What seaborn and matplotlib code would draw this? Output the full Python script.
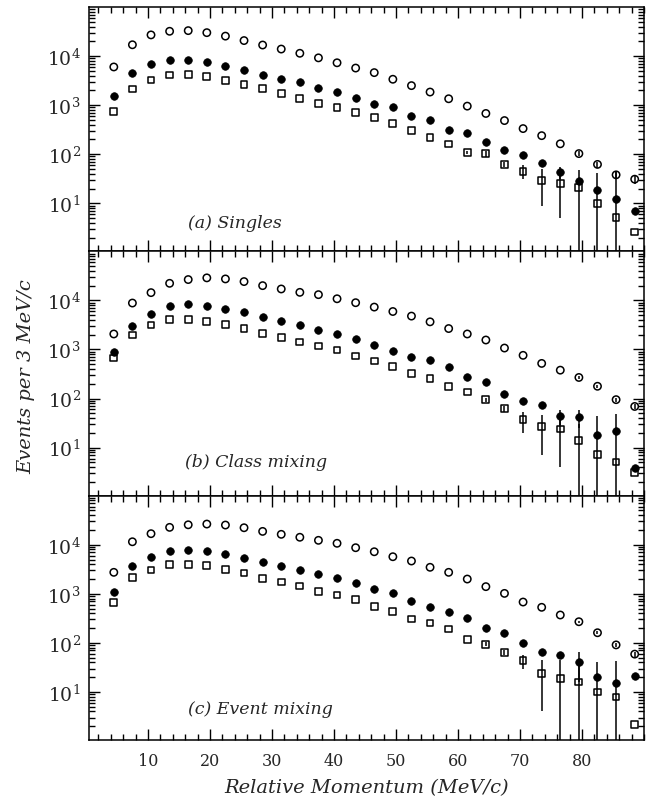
import numpy as np
import pandas as pd
import matplotlib
matplotlib.use("Agg")
import matplotlib.pyplot as plt
from matplotlib.ticker import MultipleLocator, LogLocator, NullFormatter
import seaborn as sns

# ---------------- data ----------------
momentum = [4.5, 7.5, 10.5, 13.5, 16.5, 19.5, 22.5, 25.5, 28.5, 31.5, 34.5, 37.5,
            40.5, 43.5, 46.5, 49.5, 52.5, 55.5, 58.5, 61.5, 64.5, 67.5, 70.5,
            73.5, 76.5, 79.5, 82.5, 85.5, 88.5]

# (a) Singles
a_open = [6000, 17000, 27000, 32000, 33000, 30000, 25500, 20700, 16800, 13900, 11400, 9200,
          7300, 5700, 4600, 3370, 2500, 1850, 1350, 955, 677, 485, 333,
          239, 163, 103, 62, 38, 31]
a_filled = [1510, 4480, 6750, 8160, 8280, 7640, 6330, 5220, 4200, 3480, 2920, 2280,
            1880, 1420, 1080, 910, 614, 492, 313, 266, 174, 121, 96,
            66, 44, 29, 19, 12, 7]
a_square = [743, 2130, 3260, 4130, 4260, 3830, 3170, 2620, 2200, 1760, 1370, 1100,
            910, 718, 558, 421, 307, 220, 161, 107, 102, 62, 45,
            29, 25, 21, 10, 5.2, 2.6]
a_open_err = [0] * 25 + [12, 9, 7, 6]
a_filled_err = [0] * 24 + [12, 0, 0, 0, 0]
a_square_err = [0] * 19 + [8, 16, 8, 14, 20, 20, 27, 32, 41, 0]

# (b) Class mixing
b_open = [2070, 8840, 14400, 22300, 26600, 28800, 27400, 24200, 20000, 17100, 14600, 13100,
          10800, 8980, 7310, 5940, 4790, 3660, 2670, 2070, 1560, 1070, 760,
          520, 379, 269, 178, 95, 69]
b_filled = [888, 3030, 5330, 7780, 8550, 7780, 6660, 5680, 4570, 3890, 3130, 2510,
            2050, 1660, 1240, 944, 701, 600, 437, 277, 215, 124, 91,
            75, 44, 42, 18, 22, 3.8]
b_square = [668, 1980, 3160, 4010, 4010, 3710, 3220, 2630, 2140, 1740, 1420, 1180,
            977, 734, 580, 458, 324, 252, 173, 136, 95, 62, 37,
            27, 24, 14, 7.2, 5.1, 3.1]
b_open_err = [0] * 25 + [14, 10, 8, 8]
b_filled_err = [0] * 24 + [15, 17, 26, 27, 0]
b_square_err = [0] * 20 + [8, 8, 17, 20, 20, 16, 0, 0, 0]

# (c) Event mixing
c_open = [2740, 11500, 16800, 22600, 25500, 26400, 25200, 22200, 18700, 16300, 14200, 12300,
          10700, 8700, 7200, 5700, 4660, 3470, 2740, 2000, 1400, 1020, 680,
          531, 370, 270, 161, 91, 59]
c_filled = [1090, 3680, 5610, 7450, 7920, 7550, 6370, 5350, 4510, 3730, 3050, 2500,
            2070, 1640, 1250, 1040, 713, 531, 426, 321, 204, 161, 99.5,
            64, 56, 40, 20, 15, 21]
c_square = [671, 2170, 3050, 3920, 3990, 3730, 3100, 2650, 2070, 1740, 1440, 1100,
            946, 759, 556, 432, 307, 254, 192, 116, 94, 64, 43,
            24, 19, 16, 10, 7.9, 2.2]
c_open_err = [0] * 25 + [12, 10, 8, 7]
c_filled_err = [0] * 24 + [10, 24, 21, 28, 0]
c_square_err = [0] * 20 + [8, 8, 13, 20, 25, 20, 0, 0, 0]

panel_labels = ["(a) Singles", "(b) Class mixing", "(c) Event mixing"]
x_ticks = [10, 20, 30, 40, 50, 60, 70, 80]
y_ticks = [10, 100, 1000, 10000]

panels = [
    (a_open, a_filled, a_square, a_open_err, a_filled_err, a_square_err),
    (b_open, b_filled, b_square, b_open_err, b_filled_err, b_square_err),
    (c_open, c_filled, c_square, c_open_err, c_filled_err, c_square_err),
]
label_pos = [(0.178, 0.116), (0.173, 0.141), (0.178, 0.128)]

# ---------------- style ----------------
sns.set_style("ticks")
plt.rcParams["font.family"] = ["DejaVu Serif"]
plt.rcParams["mathtext.fontset"] = "dejavuserif"
plt.rcParams["axes.linewidth"] = 1.1

fig = plt.figure(figsize=(6.48, 8.12), dpi=100)
gs = fig.add_gridspec(3, 1, left=89 / 648, right=644 / 648,
                      top=1 - 8 / 812, bottom=1 - 741 / 812, hspace=0)

axes = []
for i, (yo, yf, ys, eo, ef, es) in enumerate(panels):
    ax = fig.add_subplot(gs[i, 0])
    axes.append(ax)
    df = pd.DataFrame({"p": momentum, "open": yo, "filled": yf, "square": ys,
                       "eo": eo, "ef": ef, "es": es})
    ax.set_yscale("log")
    # error bars
    for col, ecol in [("open", "eo"), ("filled", "ef"), ("square", "es")]:
        ax.errorbar(df["p"], df[col], yerr=df[ecol], fmt="none",
                    ecolor="black", elinewidth=1.1, capsize=0, zorder=2)
    sns.scatterplot(data=df, x="p", y="open", ax=ax, marker="o", s=28,
                    color="black", facecolors="none", edgecolor="black",
                    linewidth=1.1, legend=False, zorder=3)
    sns.scatterplot(data=df, x="p", y="filled", ax=ax, marker="o", s=30,
                    color="black", edgecolor="black", linewidth=0.5,
                    legend=False, zorder=3)
    sns.scatterplot(data=df, x="p", y="square", ax=ax, marker="s", s=24,
                    color="black", facecolors="none", edgecolor="black",
                    linewidth=1.1, legend=False, zorder=3)

    ax.set_xlim(0.5, 90)
    ax.set_ylim(1.05, 1.0e5)
    ax.set_xticks(x_ticks)
    ax.xaxis.set_minor_locator(MultipleLocator(2))
    ax.set_yticks(y_ticks)
    ax.yaxis.set_minor_locator(LogLocator(base=10, subs=np.arange(2, 10)))
    ax.yaxis.set_minor_formatter(NullFormatter())
    ax.tick_params(which="both", direction="in", top=True, right=True,
                   bottom=True, left=True, width=1.0, color="black")
    ax.tick_params(which="major", length=8)
    ax.tick_params(which="minor", length=4)
    ax.tick_params(axis="y", which="major", labelsize=13.5, pad=6)
    ax.tick_params(axis="x", which="major", labelsize=11.5, pad=9)
    if i < 2:
        ax.tick_params(axis="x", labelbottom=False)
    ax.set_xlabel("")
    ax.set_ylabel("")
    for sp in ax.spines.values():
        sp.set_visible(True)
        sp.set_color("black")
    ax.text(label_pos[i][0], label_pos[i][1], panel_labels[i],
            transform=ax.transAxes, ha="left", va="center",
            fontsize=12.5, style="italic")

axes[2].set_xlabel("Relative Momentum (MeV/c)", fontsize=14,
                   style="italic", labelpad=6)
fig.text(26 / 648, 1 - 377 / 812, "Events per 3 MeV/c", rotation=90,
         ha="center", va="center", fontsize=14, style="italic")

fig.savefig("out.png", dpi=100)
